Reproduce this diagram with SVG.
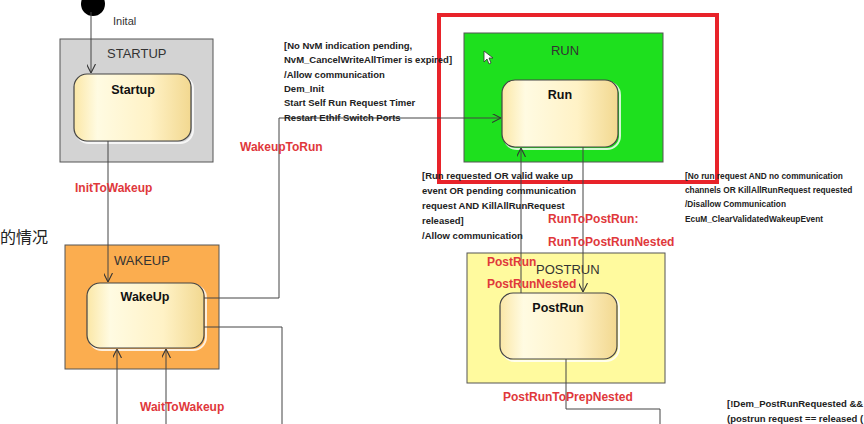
<svg xmlns="http://www.w3.org/2000/svg" width="864" height="424" viewBox="0 0 864 424">
<defs>
<linearGradient id="cream" x1="0" y1="0" x2="1" y2="0">
<stop offset="0" stop-color="#fbe7a6"/>
<stop offset="0.2" stop-color="#fffbe2"/>
<stop offset="0.65" stop-color="#fff2c6"/>
<stop offset="1" stop-color="#f2d890"/>
</linearGradient>
<marker id="arr" viewBox="0 0 10 10" refX="10" refY="5" markerWidth="9" markerHeight="9" orient="auto" markerUnits="userSpaceOnUse">
<path d="M0,0 L10,5 L0,10" fill="none" stroke="#333" stroke-width="1.2"/>
</marker>
<style>
.outer{stroke:#555;stroke-width:1}
.inner{fill:url(#cream);stroke:#444;stroke-width:1.2}
.shadow{fill:none;stroke:#ffffff;stroke-width:2;opacity:0.8}
.olab{font-family:"Liberation Sans",Arial,sans-serif;font-size:13px;fill:#333}
.ilab{font-family:"Liberation Sans",Arial,sans-serif;font-size:12.5px;font-weight:bold;fill:#111}
.red{font-family:"Liberation Sans",Arial,sans-serif;font-size:12px;font-weight:bold;fill:#e0383b}
.note{font-family:"Liberation Sans",Arial,sans-serif;font-size:9.5px;font-weight:bold;fill:#222}
.note.sm{font-size:8.3px}
.wire{fill:none;stroke:#444;stroke-width:1}
</style>
</defs>
<rect width="864" height="424" fill="#ffffff"/>

<text x="0" y="243" font-family="'Noto Sans CJK SC',sans-serif" font-size="16" fill="#222">的情况</text>

<g id="initial">
<circle cx="93" cy="4" r="12" fill="#000"/>
<text x="113" y="25" font-family="'Liberation Sans',Arial,sans-serif" font-size="11" fill="#333">Inital</text>
</g>

<g id="STARTUP">
<rect x="60" y="39" width="153" height="123" fill="#d3d3d3" class="outer"/>
<text x="107" y="58" class="olab">STARTUP</text>
<g id="Startup">
<rect x="76" y="76" width="117" height="67" rx="13" class="shadow"/>
<rect x="74" y="74" width="117" height="67" rx="13" class="inner"/>
<text x="133" y="94" class="ilab" text-anchor="middle">Startup</text>
</g>
</g>

<g id="WAKEUP">
<rect x="65" y="245" width="154" height="124" fill="#fbad4f" class="outer"/>
<text x="114" y="265" class="olab">WAKEUP</text>
<g id="WakeUp">
<rect x="89" y="285" width="117" height="65" rx="13" class="shadow"/>
<rect x="87" y="283" width="117" height="65" rx="13" class="inner"/>
<text x="145" y="301" class="ilab" text-anchor="middle">WakeUp</text>
</g>
</g>

<g id="RUN">
<rect x="464" y="33" width="199" height="129" fill="#1ee01e" class="outer"/>
<text x="565" y="55" class="olab" text-anchor="middle">RUN</text>
<g id="Run">
<rect x="504" y="82" width="116" height="67" rx="13" class="shadow"/>
<rect x="502" y="80" width="116" height="67" rx="13" class="inner"/>
<text x="560" y="99" class="ilab" text-anchor="middle">Run</text>
</g>
<path d="M484,51 L484,62 L487,59 L489,64 L491,63 L489,58 L493,58 Z" fill="#fff" stroke="#333" stroke-width="0.8"/>
</g>

<g id="POSTRUN">
<rect x="467" y="253" width="198" height="130" fill="#fffa9e" class="outer"/>
<text x="536" y="274" class="olab">POSTRUN</text>
<g id="PostRun">
<rect x="502" y="295" width="117" height="66" rx="13" class="shadow"/>
<rect x="500" y="293" width="117" height="66" rx="13" class="inner"/>
<text x="558" y="312" class="ilab" text-anchor="middle">PostRun</text>
</g>
</g>

<g id="highlight">
<rect x="439" y="15" width="278" height="167" fill="none" stroke="#e8232a" stroke-width="4"/>
</g>

<g id="connectors">
<path class="wire" d="M91,12 L91,73" marker-end="url(#arr)"/>
<path class="wire" d="M108,141 L108,282" marker-end="url(#arr)"/>
<path class="wire" d="M204,298 L279,298 L279,118 L501,118" marker-end="url(#arr)"/>
<path class="wire" d="M204,327 L282,327 L282,424"/>
<path class="wire" d="M117,424 L117,349" marker-end="url(#arr)"/>
<path class="wire" d="M166,424 L166,349" marker-end="url(#arr)"/>
<path class="wire" d="M521,293 L521,148" marker-end="url(#arr)"/>
<path class="wire" d="M583,147 L583,292" marker-end="url(#arr)"/>
<path class="wire" d="M566,359 L566,409 L660,409 L660,424"/>
</g>

<g id="labels">
<text x="75" y="192" class="red">InitToWakeup</text>
<text x="240" y="151" class="red">WakeupToRun</text>
<text x="140" y="411" class="red">WaitToWakeup</text>
<text x="548" y="223" class="red">RunToPostRun:</text>
<text x="548" y="246" class="red">RunToPostRunNested</text>
<text x="487" y="266" class="red">PostRun</text>
<text x="487" y="288" class="red">PostRunNested</text>
<text x="503" y="401" class="red">PostRunToPrepNested</text>

<text class="note">
<tspan x="284" y="49">[No NvM indication pending,</tspan>
<tspan x="284" y="63">NvM_CancelWriteAllTimer is expired]</tspan>
<tspan x="284" y="78">/Allow communication</tspan>
<tspan x="284" y="92">Dem_Init</tspan>
<tspan x="284" y="106">Start Self Run Request Timer</tspan>
<tspan x="284" y="121">Restart EthIf Switch Ports</tspan>
</text>
<text class="note">
<tspan x="422" y="179">[Run requested OR valid wake up</tspan>
<tspan x="422" y="194">event OR pending communication</tspan>
<tspan x="422" y="209">request AND KillAllRunRequest</tspan>
<tspan x="422" y="224">released]</tspan>
<tspan x="422" y="239">/Allow communication</tspan>
</text>
<text class="note sm">
<tspan x="685" y="179">[No run request AND no communication</tspan>
<tspan x="685" y="193">channels OR KillAllRunRequest requested</tspan>
<tspan x="685" y="207">/Disallow Communication</tspan>
<tspan x="685" y="222">EcuM_ClearValidatedWakeupEvent</tspan>
</text>
<text class="note">
<tspan x="727" y="407">[!Dem_PostRunRequested &amp;&amp;</tspan>
<tspan x="727" y="422">(postrun request == released (</tspan>
</text>
</g>
</svg>
